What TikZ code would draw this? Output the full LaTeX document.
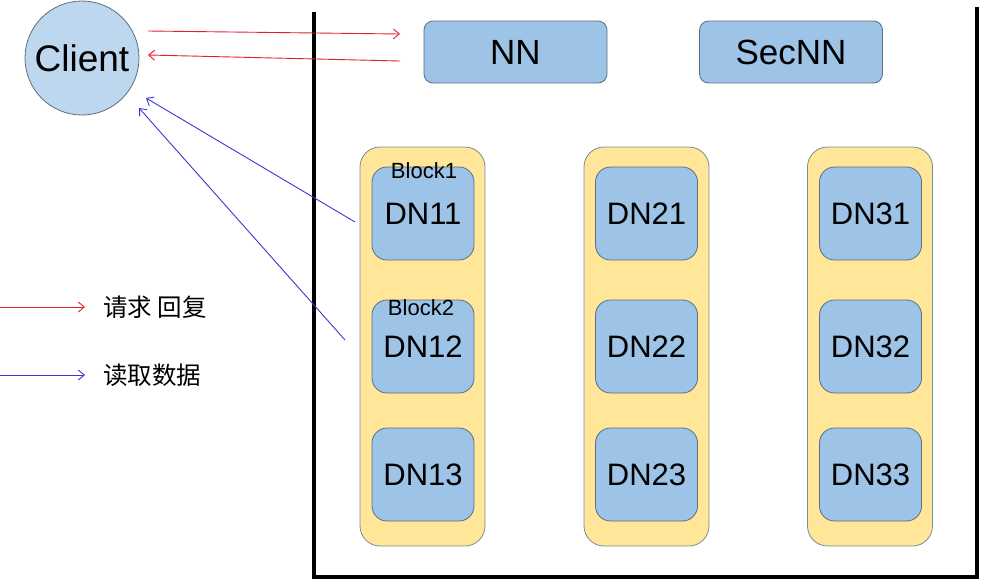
\documentclass[tikz,border=0pt]{standalone}
\usepackage{fontspec}
\setmainfont{Liberation Sans}
\newfontfamily\cjk{Noto Sans CJK SC}
\usetikzlibrary{arrows.meta,calc}
\definecolor{clientfill}{HTML}{BDD7EE}
\definecolor{boxfill}{HTML}{9DC3E6}
\definecolor{colfill}{HTML}{FFE699}
\definecolor{edge}{HTML}{5B6E80}
\definecolor{reqred}{HTML}{E02030}
\definecolor{readblue}{HTML}{3838D0}
\tikzset{
  nnbox/.style={draw=edge,fill=boxfill,rounded corners=9pt,minimum width=183pt,minimum height=62pt,inner sep=0pt,font=\fontsize{35}{37}\selectfont,line width=0.8pt},
  dnbox/.style={draw=edge,fill=boxfill,rounded corners=15pt,minimum width=102pt,minimum height=93pt,inner sep=0pt,font=\fontsize{31}{33}\selectfont,line width=0.8pt},
  colbox/.style={draw=edge!80,fill=colfill,rounded corners=20pt,minimum width=125pt,minimum height=399pt,inner sep=0pt,line width=0.8pt},
  req/.style={draw=reqred,line width=0.9pt,-{Straight Barb[length=6pt,width=10pt]}},
  rd/.style={draw=readblue,line width=0.9pt,-{Straight Barb[length=6pt,width=10pt]}},
  lbl/.style={inner sep=0pt,font=\fontsize{22}{24}\selectfont},
  legend/.style={inner sep=0pt,anchor=west,font=\cjk\fontsize{24.5}{26}\selectfont}
}
\begin{document}
\begin{tikzpicture}[x=1pt,y=-1pt]
\useasboundingbox (0,0) rectangle (983,582);
% container
\draw[line width=4pt,line cap=rect] (314,14) -- (314,577) -- (977,577) -- (977,9);
% client
\node[circle,draw=edge,fill=clientfill,minimum size=114pt,inner sep=0pt,line width=0.8pt,font=\fontsize{37}{39}\selectfont] (client) at (82,58) {Client};
% NN
\node[nnbox] (nn) at (515.5,52) {NN};
\node[nnbox] (secnn) at (791,52) {SecNN};
% columns
\node[colbox] (col1) at (422.5,346.5) {};
\node[colbox] (col2) at (646.5,346.5) {};
\node[colbox] (col3) at (870,346.5) {};
% DN boxes
\node[dnbox] (dn11) at (423,213.5) {DN11};
\node[dnbox] (dn12) at (423,346.5) {DN12};
\node[dnbox] (dn13) at (423,474.5) {DN13};
\node[dnbox] (dn21) at (646.5,213.5) {DN21};
\node[dnbox] (dn22) at (646.5,346.5) {DN22};
\node[dnbox] (dn23) at (646.5,474.5) {DN23};
\node[dnbox] (dn31) at (870.5,213.5) {DN31};
\node[dnbox] (dn32) at (870.5,346.5) {DN32};
\node[dnbox] (dn33) at (870.5,474.5) {DN33};
% block labels
\node[lbl] (b1) at (424,171) {Block1};
\node[lbl] (b2) at (421,308) {Block2};
% request arrows
\coordinate (r1s) at (148,31);
\coordinate (r1e) at (400,34);
\coordinate (r2s) at (400,61);
\coordinate (r2e) at (148,55);
\draw[req] (r1s) -- (r1e);
\draw[req] (r2s) -- (r2e);
% read arrows
\coordinate (b1s) at (355,222);
\coordinate (b1e) at (146,98);
\coordinate (b2s) at (345,340);
\coordinate (b2e) at (139,108);
\draw[rd] (b1s) -- (b1e);
\draw[rd] (b2s) -- (b2e);
% legend
\coordinate (l1s) at (0,307);
\coordinate (l1e) at (85,307);
\coordinate (l2s) at (0,375);
\coordinate (l2e) at (85,375);
\draw[req] (l1s) -- (l1e);
\draw[rd] (l2s) -- (l2e);
\node[legend] (t1) at (103,307) {请求 回复};
\node[legend] (t2) at (103,375) {读取数据};
\end{tikzpicture}
\end{document}
